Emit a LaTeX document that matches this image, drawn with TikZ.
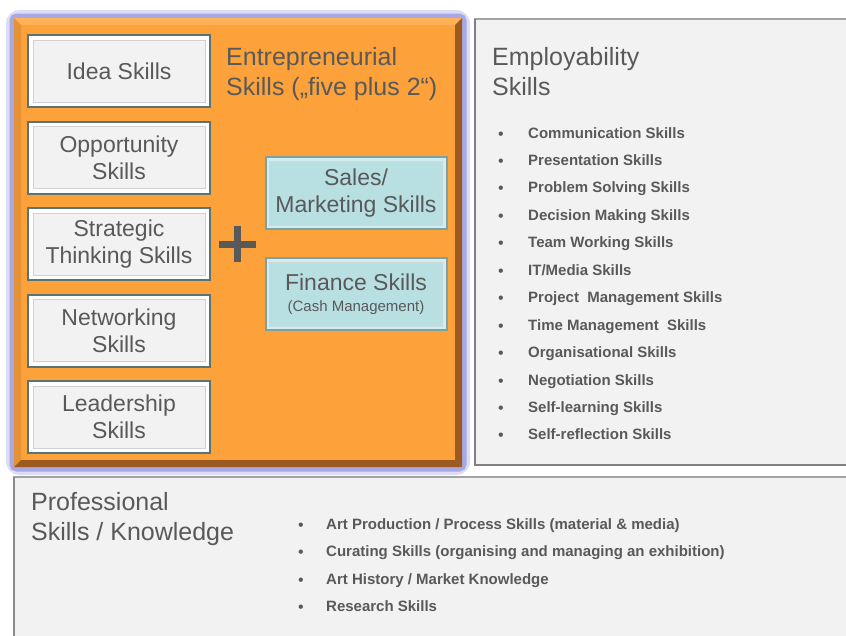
\documentclass[tikz,border=0pt]{standalone}
\usepackage{fontspec}
\setmainfont{Liberation Sans}
\usepackage{xcolor}
\usetikzlibrary{positioning, calc}

\definecolor{orangeface}{HTML}{FDA23B}
\definecolor{orangedark}{HTML}{9A5A20}
\definecolor{orangelight}{HTML}{FFB258}
\definecolor{glowblue}{HTML}{9C9CE2}
\definecolor{panelgray}{HTML}{F2F2F2}
\definecolor{paneledge}{HTML}{A3A3A3}
\definecolor{txtgray}{HTML}{595959}
\definecolor{skilledge}{HTML}{587474}
\definecolor{tealface}{HTML}{B8DFE2}
\definecolor{tealedge}{HTML}{7AA2A4}

\begin{document}
\begin{tikzpicture}[x=1pt,y=-1pt,
  skill/.style={draw=skilledge, line width=2pt, fill=white, minimum width=182pt,
    minimum height=72pt, inner sep=0pt, align=center, text=txtgray,
    font=\fontsize{23}{27}\selectfont,
    path picture={\draw[draw=black!18, fill=panelgray, line width=0.6pt]
      ([shift={(5pt,-5pt)}]path picture bounding box.north west) rectangle
      ([shift={(-5pt,5pt)}]path picture bounding box.south east);}},
  extra/.style={skill, draw=tealedge, fill=tealface!60!white, minimum width=181pt,
    path picture={\draw[draw=tealedge!40, fill=tealface, line width=0.6pt]
      ([shift={(4pt,-4pt)}]path picture bounding box.north west) rectangle
      ([shift={(-4pt,4pt)}]path picture bounding box.south east);}},
  title/.style={inner sep=0pt, align=left, text=txtgray, font=\fontsize{25}{30}\selectfont},
  item/.style={inner sep=0pt, text=txtgray, font=\fontsize{15}{18}\selectfont\bfseries},
  dot/.style={inner sep=0pt, text=txtgray, font=\fontsize{16}{18}\selectfont}]
  \useasboundingbox (0,0) rectangle (846,635);

  % ---- panels ----
  \fill[white] (0,0) rectangle (846,635);
  \draw[paneledge, line width=1.5pt, fill=panelgray] (475,19) rectangle (852,465);
  \draw[gray, line width=2.5pt] (475,19) -- (475,465) -- (852,465);
  \draw[paneledge, line width=1.5pt, fill=panelgray] (14,477) rectangle (852,640);
  \draw[gray!90, line width=2pt] (14,640) -- (14,477);

  % ---- entrepreneurial block with glow ----
  \draw[glowblue, line width=16pt, opacity=0.35, rounded corners=6pt] (14,18) rectangle (462,467);
  \draw[glowblue, line width=9pt, opacity=0.8, rounded corners=3pt] (14,18) rectangle (462,467);
  \fill[orangeface] (14,18) rectangle (462,467);
  \fill[orangelight] (14,18) -- (462,18) -- (455,25) -- (21,25) -- cycle;
  \fill[orangeface!90!black] (14,18) -- (21,25) -- (21,460) -- (14,467) -- cycle;
  \fill[orangedark] (462,18) -- (462,467) -- (455,460) -- (455,25) -- cycle;
  \fill[orangedark] (14,467) -- (462,467) -- (455,460) -- (21,460) -- cycle;

  % ---- five skills ----
  \foreach \nm/\txt [count=\i] in {idea/Idea Skills, opport/{Opportunity\\Skills},
      strat/{Strategic\\Thinking Skills}, netw/{Networking\\Skills}, lead/{Leadership\\Skills}}
    \node[skill] (\nm) at (119,{71+86.5*(\i-1)}) {\txt};

  % ---- plus 2 ----
  \draw[txtgray, line width=7pt] (219,244.5) -- (256,244.5);
  \draw[txtgray, line width=7pt] (237.5,226) -- (237.5,262);
  \node[extra] (sales) at (356,193) {Sales/\\Marketing Skills};
  \node[extra] (finance) at (356,294)
    {Finance Skills\\[-6pt]{\fontsize{15}{18}\selectfont(Cash Management)}};

  % ---- titles ----
  \node[title, anchor=base west] (entre) at (226,95) {Entrepreneurial\\Skills („five plus 2“)};
  \node[title, anchor=base west] (employ) at (492,95) {Employability\\Skills};
  \node[title, anchor=base west] (prof) at (31,540) {Professional\\Skills / Knowledge};

  % ---- employability list ----
  \foreach \t [count=\i] in {Communication Skills, Presentation Skills, Problem Solving Skills,
      Decision Making Skills, Team Working Skills, IT/Media Skills, Project~ Management Skills,
      Time Management~ Skills, Organisational Skills, Negotiation Skills, Self-learning Skills,
      Self-reflection Skills} {
    \node[dot, anchor=base] (eb\i) at (501,{139+27.45*(\i-1)}) {\textbullet};
    \node[item, anchor=base west] (e\i) at (528,{138+27.45*(\i-1)}) {\t};
  }

  % ---- professional list ----
  \foreach \t [count=\i] in {Art Production / Process Skills (material \& media),
      Curating Skills (organising and managing an exhibition),
      Art History / Market Knowledge, Research Skills} {
    \node[dot, anchor=base] (pb\i) at (301,{530.5+27.4*(\i-1)}) {\textbullet};
    \node[item, anchor=base west] (p\i) at (326,{529.5+27.4*(\i-1)}) {\t};
  }
\end{tikzpicture}
\end{document}
